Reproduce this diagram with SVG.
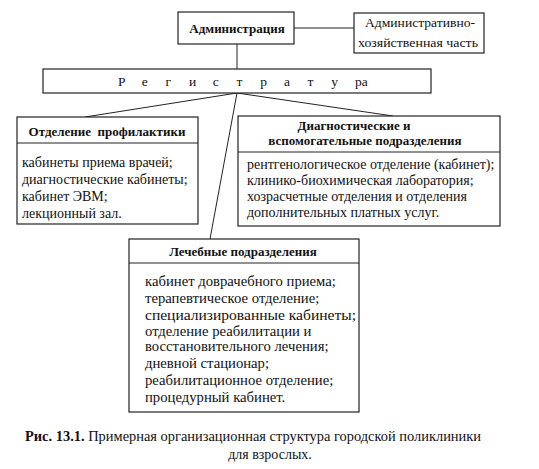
<svg xmlns="http://www.w3.org/2000/svg" width="539" height="469" viewBox="0 0 539 469" font-family="'Liberation Serif', Tinos, 'DejaVu Serif', 'Times New Roman', serif">
<style>
.box{fill:#fff;stroke:#222;stroke-width:1.2}
.ln{stroke:#222;stroke-width:1;fill:none}
text{font-family:'Liberation Serif', Tinos, 'DejaVu Serif', 'Times New Roman', serif;fill:#111}
.b{font-weight:bold;font-size:13px}
.t{font-size:13.5px}
.s{font-size:14px}
.l{font-size:14.7px}
.c{font-size:14px}
</style>
<rect width="539" height="469" fill="#fff"/>
<g id="connectors">
<line class="ln" x1="294" y1="28" x2="354" y2="28"/>
<line class="ln" x1="237" y1="44" x2="237" y2="69"/>
<line class="ln" x1="237" y1="93" x2="85" y2="117"/>
<line class="ln" x1="237" y1="93" x2="393" y2="116"/>
<line class="ln" x1="237" y1="93" x2="210" y2="239"/>
</g>
<g id="admin">
<rect class="box" x="178" y="12" width="116" height="32"/>
<text class="b" x="237" y="33" text-anchor="middle">Администрация</text>
</g>
<g id="ahch">
<rect class="box" x="354" y="13" width="130" height="40"/>
<text class="t" x="420" y="27" text-anchor="middle" textLength="110" lengthAdjust="spacingAndGlyphs">Административно-</text>
<text class="t" x="418" y="47" text-anchor="middle" textLength="120" lengthAdjust="spacingAndGlyphs">хозяйственная часть</text>
</g>
<g id="registratura">
<rect class="box" x="43" y="69" width="388" height="24"/>
<text class="t" x="118 141.7 165.4 189.1 212.8 236.5 260.2 283.9 307.6 331.3 355" y="86">Регистратура</text>
</g>
<g id="profilaktika">
<rect class="box" x="17" y="117" width="181" height="107"/>
<line class="ln" x1="17" y1="143" x2="198" y2="143"/>
<text class="b" x="107" y="136" text-anchor="middle" xml:space="preserve">Отделение  профилактики</text>
<text class="s" x="22" y="167">кабинеты приема врачей;</text>
<text class="s" x="22" y="184">диагностические кабинеты;</text>
<text class="s" x="22" y="201">кабинет ЭВМ;</text>
<text class="s" x="22" y="218">лекционный зал.</text>
</g>
<g id="diagnostic">
<rect class="box" x="238" y="116" width="262" height="110"/>
<line class="ln" x1="238" y1="152" x2="500" y2="152"/>
<text class="b" x="354" y="130" text-anchor="middle">Диагностические и</text>
<text class="b" x="365" y="145" text-anchor="middle">вспомогательные подразделения</text>
<text class="s" x="247" y="169">рентгенологическое отделение (кабинет);</text>
<text class="s" x="247" y="185">клинико-биохимическая лаборатория;</text>
<text class="s" x="247" y="201">хозрасчетные отделения и отделения</text>
<text class="s" x="247" y="217">дополнительных платных услуг.</text>
</g>
<g id="lechebnye">
<rect class="box" x="129" y="239" width="230" height="173"/>
<line class="ln" x1="129" y1="263" x2="359" y2="263"/>
<text class="b" x="243" y="256" text-anchor="middle">Лечебные подразделения</text>
<text class="l" x="145" y="286">кабинет доврачебного приема;</text>
<text class="l" x="145" y="303">терапевтическое отделение;</text>
<text class="l" x="145" y="320" textLength="211" lengthAdjust="spacingAndGlyphs">специализированные кабинеты;</text>
<text class="l" x="145" y="336">отделение реабилитации и</text>
<text class="l" x="145" y="351">восстановительного лечения;</text>
<text class="l" x="145" y="368">дневной стационар;</text>
<text class="l" x="145" y="385">реабилитационное отделение;</text>
<text class="l" x="145" y="402">процедурный кабинет.</text>
</g>
<g id="caption">
<text class="c" x="25" y="441" textLength="456" lengthAdjust="spacingAndGlyphs"><tspan font-weight="bold">Рис. 13.1.</tspan> Примерная организационная структура городской поликлиники</text>
<text class="c" x="270" y="459" text-anchor="middle">для взрослых.</text>
</g>
</svg>
